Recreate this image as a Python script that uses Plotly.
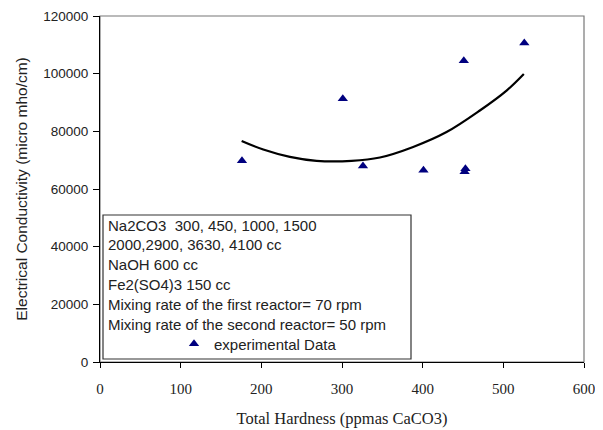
import plotly.graph_objects as go

# experimental points
hardness = [176, 301, 326, 401, 451, 452, 453, 526]
conductivity = [69800, 91300, 68000, 66500, 104500, 66000, 67000, 110600]

# fitted trend curve
fit_x = [175.6, 202.4, 235.4, 268.5, 311.9, 347.0, 388.2, 429.6, 470.9, 504.0, 525.4]
fit_y = [76650, 73680, 71130, 69750, 69750, 70920, 74580, 79750, 87230, 94130, 99890]

box_lines = [
    "Na2CO3  300, 450, 1000, 1500",
    "2000,2900, 3630, 4100 cc",
    "NaOH 600 cc",
    "Fe2(SO4)3 150 cc",
    "Mixing rate of the first reactor= 70 rpm",
    "Mixing rate of the second reactor= 50 rpm",
]

# page body has an 8px margin, so the figure is drawn a bit smaller
OFF = 8
W, H = 603 - OFF, 430 - OFF
L, R, T, B = 100 - OFF, 19, 16 - OFF, 68
pw, ph = W - L - R, H - T - B


def px(x):
    return (x - OFF - L) / pw


def py(y):
    return (H - B - (y - OFF)) / ph


fig = go.Figure()

fig.add_trace(go.Scatter(
    x=fit_x, y=fit_y, mode='lines', showlegend=False,
    line=dict(color='black', width=2.2, shape='spline', smoothing=1.0),
))

fig.add_trace(go.Scatter(
    x=hardness, y=conductivity, mode='markers', name='experimental Data',
    marker=dict(symbol='triangle-up', size=9, color='#00007f'),
))

sans = 'Liberation Sans, Arial, sans-serif'
serif = 'Liberation Serif, Times New Roman, serif'

annotations = []
for i, t in enumerate(box_lines):
    annotations.append(dict(
        text=t, xref='paper', yref='paper', x=px(106), y=py(225 + 19.8 * i),
        xanchor='left', yanchor='middle', showarrow=False,
        font=dict(family=sans, size=15, color='#222222'),
    ))

fig.update_layout(
    width=W, height=H,
    margin=dict(l=L, r=R, t=T, b=B),
    paper_bgcolor='white', plot_bgcolor='white',
    annotations=annotations,
    shapes=[
        dict(type='rect', xref='paper', yref='paper', x0=0, y0=0, x1=1, y1=1,
             line=dict(color='#777777', width=1.2), layer='below'),
        dict(type='rect', xref='paper', yref='paper',
             x0=px(103), y0=py(359), x1=px(411), y1=py(215),
             line=dict(color='#333333', width=1.2), fillcolor='rgba(0,0,0,0)'),
    ],
    legend=dict(
        x=px(174), y=py(344), xanchor='left', yanchor='middle',
        bgcolor='rgba(0,0,0,0)', borderwidth=0,
        font=dict(family=sans, size=15, color='#222222'),
        itemwidth=30,
    ),
    xaxis=dict(
        range=[0, 600], dtick=100, showgrid=False, zeroline=False,
        showline=True, linecolor='black', linewidth=1.2,
        ticks='outside', ticklen=5, tickcolor='black', automargin=False,
        ticklabelstandoff=8,
        tickfont=dict(family=serif, size=15, color='#222222'),
        title=dict(text='Total Hardness (ppmas CaCO3)', standoff=16,
                   font=dict(family=serif, size=16.5, color='#222222')),
    ),
    yaxis=dict(
        range=[0, 120000], dtick=20000, showgrid=False, zeroline=False,
        tickformat='d', automargin=False,
        showline=True, linecolor='black', linewidth=1.2,
        ticks='outside', ticklen=6, tickcolor='black',
        ticklabelstandoff=2,
        tickfont=dict(family=sans, size=13.5, color='#222222'),
        title=dict(text='Electrical Conductivity (micro mho/cm)', standoff=11,
                   font=dict(family=sans, size=15.5, color='#222222')),
    ),
)

fig.write_html("out.html")
